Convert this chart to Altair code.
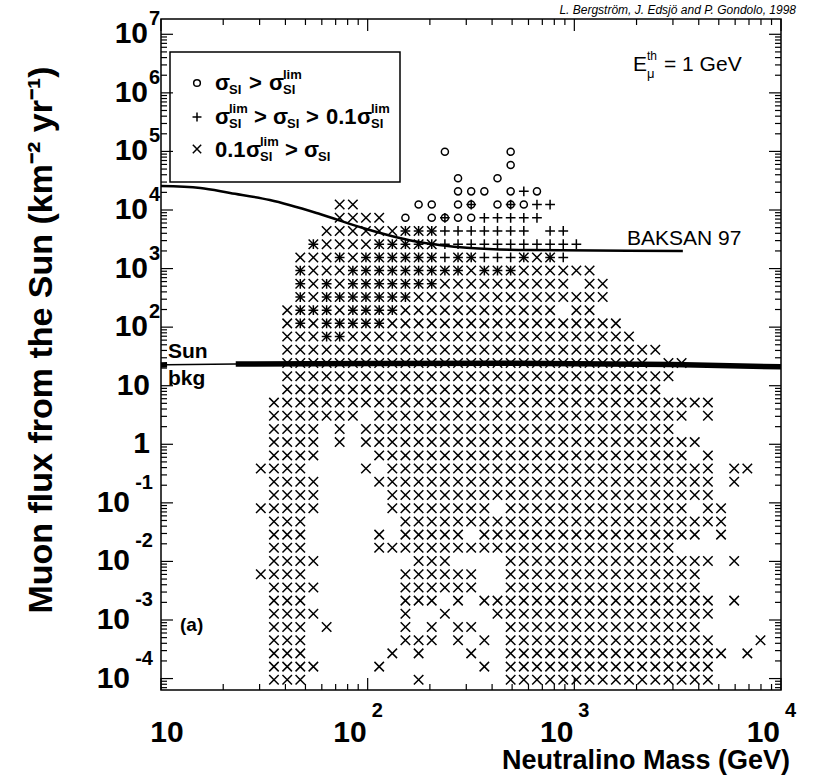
import altair as alt
import pandas as pd

FONT = "Liberation Sans"

# ---- grid of the scan ----
MASS_GEV = [30.4, 35.2, 40.8, 47.2, 54.6, 63.3, 73.2, 84.8, 98.1, 113.7, 131.6,
            152.3, 176.4, 204.2, 236.4, 273.7, 316.9, 366.9, 424.8, 491.9, 569.5,
            659.4, 763.3, 883.9, 1023, 1185, 1372, 1588, 1839, 2129, 2465, 2854,
            3304, 3825, 4429, 5128, 5936, 6873, 7958, 9213]

FLUX_ROWS = [9.53e-5, 1.60e-4, 2.69e-4, 4.52e-4, 7.59e-4, 1.28e-3, 2.14e-3,
             3.60e-3, 6.05e-3, 1.02e-2, 1.71e-2, 2.87e-2, 4.82e-2, 8.11e-2,
             0.136, 0.229, 0.385, 0.646, 1.09, 1.82, 3.06, 5.15, 8.65, 14.5,
             24.4, 41.0, 69.0, 116, 195, 327, 550, 924, 1550, 2610, 4390, 7360,
             12400, 20800, 34900, 58700, 98600]

# rows from top (highest flux) to bottom; columns follow MASS_GEV
# x = 0.1 s_lim > s,  + = s_lim > s > 0.1 s_lim,  o = s > s_lim,  * = x and +,  @ = o and +
GRID = [
    "..... ..... ....o ....o ..... ..... ..... .....",
    "..... ..... ..... ....o ..... ..... ..... .....",
    "..... ..... ..... o..o. ..... ..... ..... .....",
    "..... ..... ..... ooo.o +o... ..... ..... .....",
    "..... .xx.. ..oo. o@.o@ o++.. ..... ..... .....",
    "..... .xxxx .o.o@ oo+++ ++... ..... ..... .....",
    "..... xxxxx x***+ +++++ +.++. ..... ..... .....",
    "....* xxxx* ****+ +++++ +++++ ..... ..... .....",
    "...xx x*x** ****+ **+++ *x*+. ..... ..... .....",
    "...*x xx*** ***** *x*** xxxxx x.... ..... .....",
    "...*x *x*** ****x xxxxx xxxx. xx... ..... .....",
    "...*x ***** **xxx xxxxx xxxxx xx... ..... .....",
    "..x** *x*** *xxxx xxxxx xxx.x x.... ..... .....",
    "..x*x ***** xxxxx xxxxx xxxxx xxx.. ..... .....",
    "..xxx **xxx xxxxx xxxxx xxxxx xxxx. ..... .....",
    "..xxx xxxxx xxxxx xxxxx xxxxx xxxxx x.... .....",
    "..xxx xxxxx xxxxx xxxxx xxxxx xxxxx .xx.. .....",
    "..xxx xxxxx xxxxx xxxxx xxxxx xxxxx xx... .....",
    "..xxx xxxxx xxxxx xxxxx xxxxx xxxxx x.... .....",
    ".xxxx xxxxx xxxxx xxxxx xxxxx xxxxx xxxxx .....",
    ".xxxx xxx.x xxxxx xxxxx xxxxx xxxxx xxx.x .....",
    ".xxxx .x.xx xxxxx xxxxx xxxxx xxxxx xx... .....",
    ".xxxx .x.xx xxxxx xxxxx xxxxx xxxxx xxxx. .....",
    ".xxxx ....x xxxxx xxxxx xxxxx xxxxx xxx.x .....",
    "xxxx. ...x. xxxxx xxxxx xxxxx xxxxx xxxxx .xx..",
    ".xxxx ....x xxxxx xxxxx xxxxx xxxxx xxxxx .x...",
    ".xxxx ..... xxxxx xxxxx xxxxx xxxxx xxxxx .....",
    "xxxxx ..... xxxxx xxx.x xxxxx xxxxx xxx.x x....",
    ".xxx. ..... .xxxx xxxxx xxxxx xxxxx xxxxx x....",
    ".xxx. ....x .xxxx x.xxx xxxxx xxxxx xxxx. x....",
    ".xxx. ....x xxxxx xxxxx xxxxx xxxxx xx... .....",
    ".xxxx ..... ..xxx ....x xxxxx xxxxx xxxxx .x...",
    "xxxx. ..... .xxxx xx..x xxxxx xxxxx xxxx. .....",
    ".xxxx ..... .xxxx xx..x xxxxx xxxxx xxxx. .....",
    ".xxx. ..... .xxx. x.xxx xxxxx xxxxx xxxxx .x...",
    ".xxxx ..... .x..x ...xx xxxxx xxxxx xxxxx .....",
    ".xxx. x.... .x.x. xx..x xxxxx xxxxx xxxx. .....",
    ".xxx. ..... .xxx. x.x.x xxxxx xxxxx xxxxx ...x.",
    ".xxx. ..... x.x.. .x..x xxxxx xxxxx xxxxx x.x..",
    ".xxxx ....x ..... ..x.x xxxxx xxxxx xxxxx .....",
    ".xxx. ..... ..x.. ....x xxxxx xxxxx xxxxx .....",
]

BAKSAN_MASS = [10, 15.5, 21.6, 33.6, 58.7, 94.8, 166, 313, 610, 3350]
BAKSAN_FLUX = [25700, 23800, 19500, 14800, 8550, 4930, 2960, 2250, 2070, 2000]

SUN_MASS = [10, 10.7, 23, 100, 500, 3000, 10000]
SUN_FLUX = [22.6, 22.7, 23.4, 24.0, 24.2, 23.0, 21.0]

X_TICK_EXP = [1, 2, 3, 4]
Y_TICK_EXP = [7, 6, 5, 4, 3, 2, 1, 0, -1, -2, -3, -4]

# ---- layout ----
W, H = 620, 671
Y_MIN, Y_MAX = 6.38e-5, 1.824e7
XS = alt.Scale(type="log", domain=[10, 10000], nice=False)
YS = alt.Scale(type="log", domain=[Y_MIN, Y_MAX], nice=False)
ONE = pd.DataFrame({"k": [0]})

X_PATH = "M-1,-1L1,1M-1,1L1,-1"
PLUS_PATH = "M-1,0L1,0M0,-1L0,1"

KINDS = {"x": ["x"], "+": ["+"], "o": ["o"], "*": ["x", "+"], "@": ["o", "+"]}
recs = []
nrows = len(GRID)
for i, line in enumerate(GRID):
    r = nrows - 1 - i
    for c, ch in enumerate(line.replace(" ", "")):
        for k in KINDS.get(ch, []):
            recs.append({"mass": MASS_GEV[c], "flux": FLUX_ROWS[r], "sym": k})
pts = pd.DataFrame(recs)


def xy():
    return dict(x=alt.X("mass:Q", scale=XS, axis=None),
                y=alt.Y("flux:Q", scale=YS, axis=None))


def sym_layer(kind, shape, size):
    return (alt.Chart(pts).transform_filter(alt.datum.sym == kind)
            .mark_point(shape=shape, size=size, filled=False, color="black",
                        strokeWidth=1.5, opacity=1)
            .encode(**xy()))


crosses = sym_layer("x", X_PATH, 90)
pluses = sym_layer("+", PLUS_PATH, 95)
circles = sym_layer("o", "circle", 50)

bak = pd.DataFrame({"mass": BAKSAN_MASS, "flux": BAKSAN_FLUX})
baksan = alt.Chart(bak).mark_line(color="black", strokeWidth=2.5,
                                  interpolate="monotone").encode(**xy())

sun = pd.DataFrame({"mass": SUN_MASS, "flux": SUN_FLUX,
                    "part": ["a" if i < 2 else "b" for i in range(len(SUN_MASS))]})
sun_thin = alt.Chart(sun).mark_line(color="black", strokeWidth=1.5).encode(**xy())
sun_thick = alt.Chart(sun).mark_line(color="black", strokeWidth=5.5).encode(
    detail="part:N", **xy())

# ---- inward ticks on all four sides ----
ymaj = [10.0 ** e for e in range(-4, 8)]
ymin = [k * 10.0 ** e for e in range(-5, 8) for k in range(2, 10)
        if Y_MIN <= k * 10.0 ** e <= Y_MAX]
xmaj = [10.0, 100.0, 1000.0, 10000.0]
xmin = [k * 10.0 ** e for e in range(1, 4) for k in range(2, 10)]


def vrules(vals, x0, x1):
    return alt.Chart(pd.DataFrame({"v": vals})).mark_rule(
        color="black", strokeWidth=1.2).encode(
        y=alt.Y("v:Q", scale=YS, axis=None), x=alt.value(x0), x2=alt.value(x1))


def hrules(vals, y0, y1):
    return alt.Chart(pd.DataFrame({"v": vals})).mark_rule(
        color="black", strokeWidth=1.2).encode(
        x=alt.X("v:Q", scale=XS, axis=None), y=alt.value(y0), y2=alt.value(y1))


ticks = [
    vrules(ymaj, 0, 12), vrules(ymin, 0, 6),
    vrules(ymaj, W - 12, W), vrules(ymin, W - 6, W),
    hrules(xmaj, 0, 12), hrules(xmin, 0, 6),
    hrules(xmaj, H - 12, H), hrules(xmin, H - 6, H),
]

# ---- tick labels ----
ylab = pd.DataFrame({"v": [10.0 ** e for e in Y_TICK_EXP], "e": Y_TICK_EXP,
                     "base": ["1" if e == 0 else "10" for e in Y_TICK_EXP],
                     "exp": [str(e) for e in Y_TICK_EXP]})


def ytext(cond, x, align, size, field, dy=0):
    return (alt.Chart(ylab).transform_filter(cond)
            .mark_text(align=align, baseline="middle", font=FONT, fontSize=size,
                       fontWeight="bold", dy=dy, color="black")
            .encode(y=alt.Y("v:Q", scale=YS, axis=None), x=alt.value(x),
                    text=alt.Text(f"{field}:N")))


ylabels = [
    ytext(alt.datum.e >= 2, -13, "right", 30, "base"),
    ytext(alt.datum.e >= 2, -12, "left", 20, "exp", dy=-15),
    ytext((alt.datum.e == 0) | (alt.datum.e == 1), -11, "right", 30, "base"),
    ytext(alt.datum.e < 0, -31, "right", 30, "base"),
    ytext(alt.datum.e < 0, -8, "right", 20, "exp", dy=-20),
]

xlab = pd.DataFrame({"v": [10.0 ** e for e in X_TICK_EXP], "e": X_TICK_EXP,
                     "base": ["10" for e in X_TICK_EXP],
                     "exp": [str(e) for e in X_TICK_EXP]})


def xtext(cond, y, align, size, field, dx=0):
    return (alt.Chart(xlab).transform_filter(cond)
            .mark_text(align=align, baseline="middle", font=FONT, fontSize=size,
                       fontWeight="bold", dx=dx, color="black")
            .encode(x=alt.X("v:Q", scale=XS, axis=None), y=alt.value(y),
                    text=alt.Text(f"{field}:N")))


xlabels = [
    xtext(alt.datum.e == 1, 714, "center", 30, "base", dx=6),
    xtext(alt.datum.e > 1, 714, "right", 30, "base", dx=-1),
    xtext(alt.datum.e > 1, 692, "left", 20, "exp", dx=4),
]


# ---- annotations ----
def note(txt, x, y, size, align="left", weight="normal", style="normal", angle=0):
    kw = dict(text=txt, align=align, baseline="middle", font=FONT, fontSize=size,
              fontWeight=weight, fontStyle=style, color="black")
    if angle:
        kw["angle"] = angle
    return alt.Chart(ONE).mark_text(**kw).encode(x=alt.value(x), y=alt.value(y))


def sym_at(shape, size, x, y):
    return alt.Chart(ONE).mark_point(shape=shape, size=size, filled=False,
                                     color="black", strokeWidth=1.5, opacity=1
                                     ).encode(x=alt.value(x), y=alt.value(y))


MAIN, SUB = 22, 13
B = "bold"
notes = [
    note("L. Bergström, J. Edsjö and P. Gondolo, 1998", 635, -9, 12,
         align="right", style="italic"),
    note("Neutralino Mass (GeV)", 629, 742, 27, align="right", weight=B),
    note("Muon flux from the Sun (km\u207b\u00b2 yr\u207b\u00b9)", -119, 321, 34,
         align="center", weight=B, angle=270),
    note("Sun", 7, 333, 21, weight=B),
    note("bkg", 7, 360, 21, weight=B),
    note("(a)", 19, 606, 19, weight=B),
    note("BAKSAN 97", 466, 220, 21),
    note("E", 472, 46, 21),
    note("th", 486, 37, 12),
    note("\u03bc", 486, 55, 13),
    note("= 1 GeV", 503, 46, 21),
    # legend box
    alt.Chart(ONE).mark_rect(filled=False, color="black", strokeWidth=1.5).encode(
        x=alt.value(9), x2=alt.value(239), y=alt.value(33), y2=alt.value(163)),
    sym_at("circle", 45, 36, 64),
    sym_at(PLUS_PATH, 80, 36, 98),
    sym_at(X_PATH, 70, 36, 130),
    # row 1
    note("\u03c3", 54, 64, MAIN, weight=B),
    note("SI", 68, 71, SUB, weight=B),
    note(">", 88, 64, MAIN, weight=B),
    note("\u03c3", 108, 64, MAIN, weight=B),
    note("lim", 122, 56, SUB, weight=B),
    note("SI", 122, 71, SUB, weight=B),
    # row 2
    note("\u03c3", 54, 98, MAIN, weight=B),
    note("lim", 68, 90, SUB, weight=B),
    note("SI", 68, 105, SUB, weight=B),
    note(">", 93, 98, MAIN, weight=B),
    note("\u03c3", 112, 98, MAIN, weight=B),
    note("SI", 126, 105, SUB, weight=B),
    note(">", 145, 98, MAIN, weight=B),
    note("0.1", 165, 98, MAIN, weight=B),
    note("\u03c3", 196, 98, MAIN, weight=B),
    note("lim", 210, 90, SUB, weight=B),
    note("SI", 210, 105, SUB, weight=B),
    # row 3
    note("0.1", 54, 131, MAIN, weight=B),
    note("\u03c3", 85, 131, MAIN, weight=B),
    note("lim", 99, 123, SUB, weight=B),
    note("SI", 99, 138, SUB, weight=B),
    note(">", 124, 131, MAIN, weight=B),
    note("\u03c3", 143, 131, MAIN, weight=B),
    note("SI", 157, 138, SUB, weight=B),
]

layers = [crosses, pluses, circles, baksan, sun_thin, sun_thick] + ticks + ylabels + xlabels + notes

chart = alt.layer(*layers).properties(
    width=W, height=H,
    autosize=alt.AutoSizeParams(type="none"),
    padding={"left": 161, "top": 19, "right": 37, "bottom": 88},
    background="white",
).configure_view(stroke="black", strokeWidth=1.5)

chart.save("out.html", embed_options={"renderer": "svg", "actions": False})
